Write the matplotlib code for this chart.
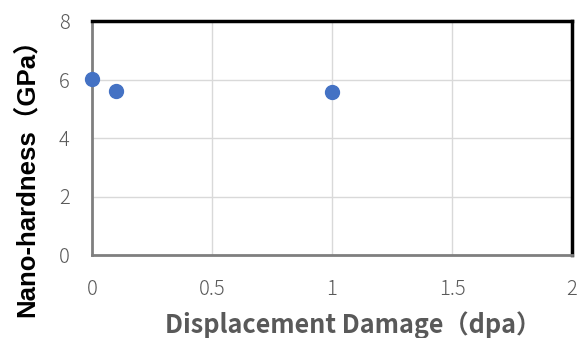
import matplotlib
matplotlib.use("Agg")
import matplotlib.pyplot as plt

dpa = [0, 0.1, 1]
hardness = [6.02, 5.62, 5.58]

x_ticks = [0, 0.5, 1, 1.5, 2]
y_ticks = [0, 2, 4, 6, 8]

plt.rcParams['font.family'] = ['Noto Sans CJK JP', 'DejaVu Sans']

fig = plt.figure(figsize=(5.79, 3.38), dpi=100)
ax = fig.add_axes([92 / 579, 1 - 255 / 338, (572 - 92) / 579, (255 - 21) / 338])

ax.scatter(dpa, hardness, s=100, color='#4472C4', zorder=3, clip_on=False)

ax.set_xlim(0, 2)
ax.set_ylim(0, 8)
ax.set_xticks(x_ticks)
ax.set_xticklabels(['0', '0.5', '1', '1.5', '2'])
ax.set_yticks(y_ticks)
ax.grid(True, color='#d9d9d9', linewidth=1)
ax.set_axisbelow(True)
ax.tick_params(axis='x', length=0, labelsize=14.5, colors='#595959', pad=17)
ax.tick_params(axis='y', length=0, labelsize=14.5, colors='#595959', pad=16)
for lbl in ax.get_xticklabels() + ax.get_yticklabels():
    lbl.set_fontweight('light')

ax.spines['top'].set_color('black')
ax.spines['top'].set_linewidth(2.5)
ax.spines['right'].set_color('black')
ax.spines['right'].set_linewidth(2.5)
ax.spines['left'].set_color('#7f7f7f')
ax.spines['left'].set_linewidth(2)
ax.spines['bottom'].set_color('#7f7f7f')
ax.spines['bottom'].set_linewidth(2)

ax.set_xlabel('Displacement Damage（dpa）', fontsize=18.2, fontweight='bold', color='#595959')
ax.xaxis.set_label_coords(0.544, -0.24)
ax.set_ylabel('Nano-hardness（GPa）', fontsize=18.5, fontweight='bold', color='black',
              family=['Liberation Sans', 'Noto Sans CJK JP'])
ax.yaxis.set_label_coords(-0.112, 0.358)

fig.savefig('out.png', dpi=100)
